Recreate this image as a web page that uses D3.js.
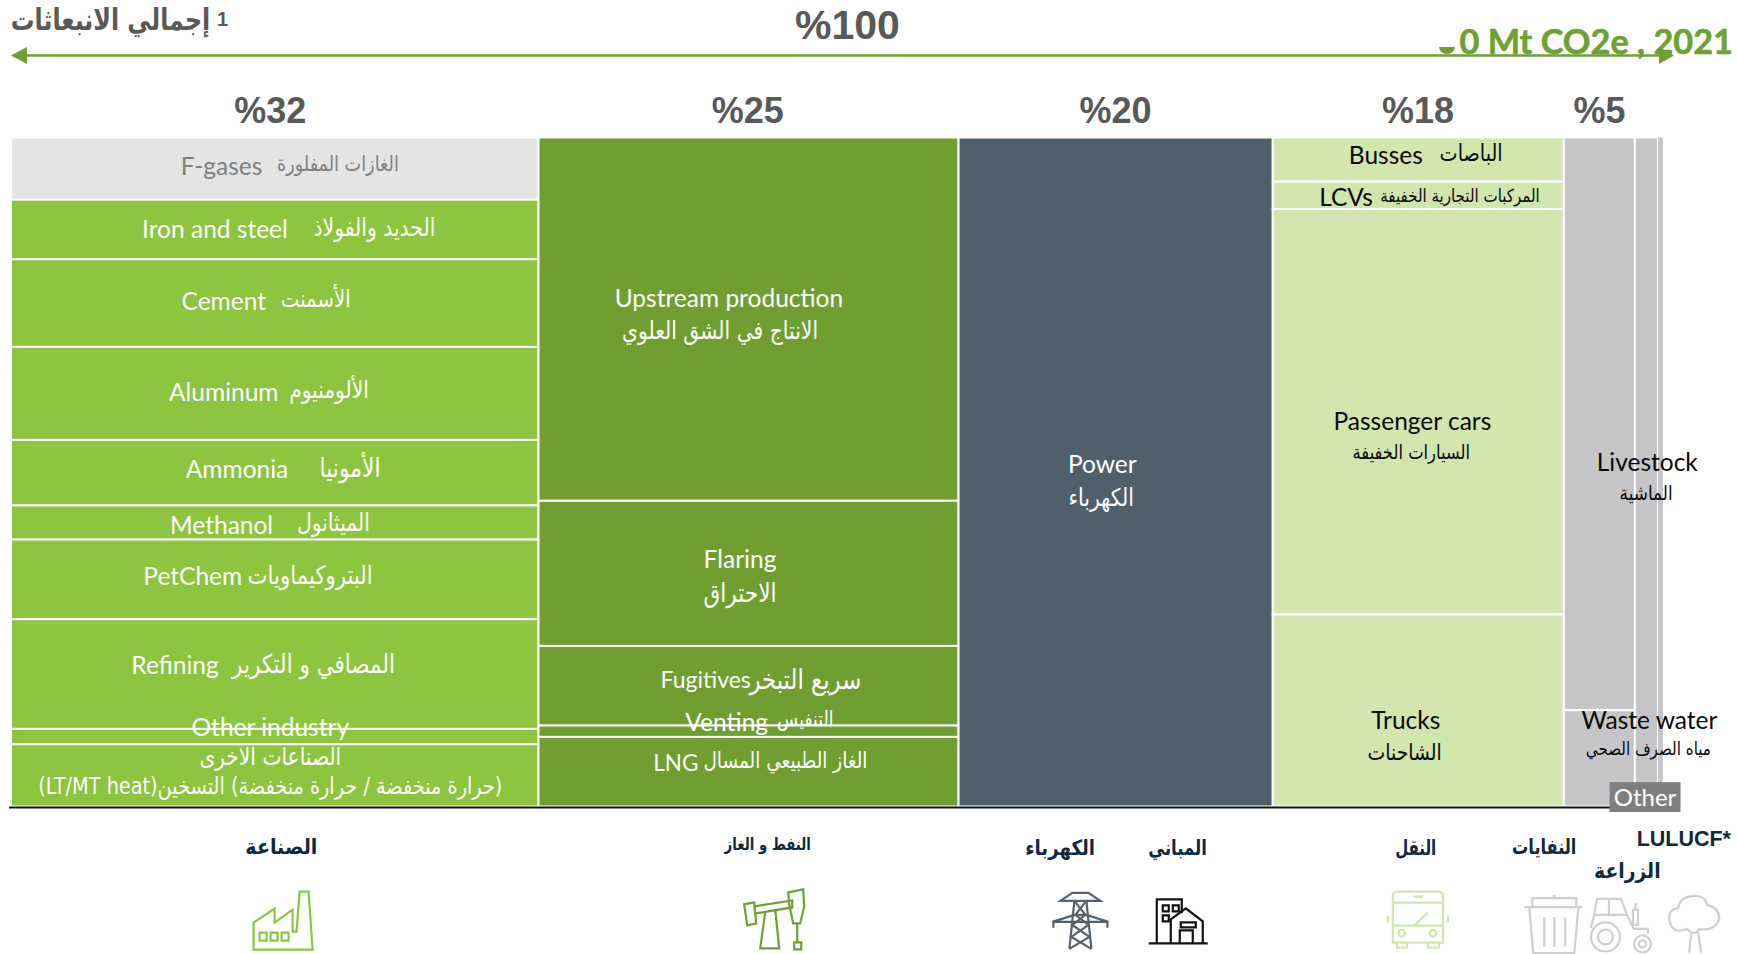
<!DOCTYPE html>
<html>
<head>
<meta charset="utf-8">
<script src="https://cdnjs.cloudflare.com/ajax/libs/d3/7.8.5/d3.min.js"></script>
<style>
html, body { margin: 0; background: #fff; }
svg { display: block; font-family: Lato, "DejaVu Sans", sans-serif; }
</style>
</head>
<body>
<svg></svg>
<script>
// column shares (% of the total width) and the split inside each column (% of height)
var sectors = ["Industry", "Oil and gas", "Power", "Transport", "Waste", "Agriculture", "LULUCF"];
var sectorWidth = [31.9, 25.4, 19.0, 17.6, 4.3, 1.4, 0.3];
var industry = [9.3, 8.9, 13.1, 13.9, 9.8, 5.1, 11.9, 16.4, 2.3, 9.3];
var oilGas = [54.3, 21.7, 11.9, 1.7, 10.4];
var power = [100];
var transport = [6.6, 4.1, 60.6, 28.7];
var waste = [85.6, 14.4];
var agriculture = [100];
var lulucf = [100];
var columnSplits = [industry, oilGas, power, transport, waste, agriculture, lulucf];
var columnColors = ["#8cc63f", "#6f9f31", "#4f5f6b", "#d0e6ad", "#c5c5c8", "#c5c5c8", "#c5c5c8"];
var shareLabels = ["%32", "%25", "%20", "%18", "%5"];

var svgWidth = 1737, svgHeight = 954;
var k = 1737 / 1568; // spots below

var svg = d3.select("svg")
    .attr("viewBox", [0, 0, svgWidth, svgHeight])
    .attr("width", svgWidth)
    .attr("height", svgHeight);

var x = d3.scaleLinear().domain([0, d3.sum(sectorWidth)]).range([11, 1663]);
var y = d3.scaleLinear().domain([0, 100]).range([137.5, 806.5]);
var xEdges = [0].concat(Array.from(d3.cumsum(sectorWidth)));

// cells
var cells = [];
columnSplits.forEach(function(split, c) {
    var start = 0;
    split.forEach(function(v, i) {
        cells.push({ col: c, idx: i, from: start, to: start + v });
        start += v;
    });
});

svg.append("g").selectAll("rect")
    .data(cells)
    .enter()
    .append("rect")
    .attr("x", d => x(xEdges[d.col]))
    .attr("y", d => y(d.from))
    .attr("width", d => x(xEdges[d.col + 1]) - x(xEdges[d.col]))
    .attr("height", d => y(d.to) - y(d.from))
    .attr("fill", d => (d.col == 0 && d.idx == 0) ? "#e4e4e4" : columnColors[d.col])
    .attr("stroke", "#fff")
    .attr("stroke-width", d => d.col == 6 ? 0 : 2);

// baseline
svg.append("line")
    .attr("x1", 9).attr("x2", 1612)
    .attr("y1", 807.5).attr("y2", 807.5)
    .attr("stroke", "#111").attr("stroke-width", 2);

// total arrow
var arrowGreen = "#6fa033";
svg.append("line")
    .attr("x1", 20).attr("x2", 1665)
    .attr("y1", 55.5).attr("y2", 55.5)
    .attr("stroke", arrowGreen).attr("stroke-width", 2.5);
svg.append("path").attr("d", "M11,55.5 L27,47 L27,64 Z").attr("fill", arrowGreen);
svg.append("path").attr("d", "M1674,55.5 L1659,47 L1659,64 Z").attr("fill", arrowGreen);

// arabic text: squeezed to the width seen in the picture, taller than it would be at that width
function fitWidth(sel, widthOf, stretch) {
    sel.each(function(d) {
        var t = widthOf(d) * k;
        var size = parseFloat(d3.select(this).attr("font-size"));
        var w = this.getComputedTextLength();
        d3.select(this)
            .attr("font-size", size * t / w * stretch)
            .attr("textLength", t)
            .attr("lengthAdjust", "spacingAndGlyphs");
    });
}

var title = svg.append("g").attr("font-weight", 700).attr("fill", "#595959");
title.append("text")
    .datum(180)
    .attr("x", 110.5).attr("y", 30)
    .attr("font-family", "DejaVu Sans").attr("font-size", 24)
    .attr("direction", "rtl").attr("text-anchor", "middle")
    .text("إجمالي الانبعاثات")
    .call(fitWidth, d => d, 1.25);
title.append("text")
    .attr("x", 217).attr("y", 26)
    .attr("font-family", "Liberation Sans").attr("font-size", 20)
    .text("1");
title.append("text")
    .attr("x", 765 * k).attr("y", 39).attr("text-anchor", "middle")
    .attr("font-family", "Liberation Sans").attr("font-size", 41)
    .text("%100");

svg.append("text")
    .attr("x", 1733).attr("y", 54).attr("text-anchor", "end")
    .attr("font-size", 34.3).attr("font-weight", 700).attr("fill", arrowGreen)
    .attr("stroke", arrowGreen).attr("stroke-width", 0.6)
    .text("0 Mt CO2e , 2021");
svg.append("path")
    .attr("d", "M1439,47 L1455,47 Q1454,54 1447,54 Q1440,54 1439,47 Z")
    .attr("fill", arrowGreen);

var shareX = [244, 675, 1007, 1280, 1444];
svg.append("g").selectAll("text")
    .data(shareLabels)
    .enter()
    .append("text")
    .text(d => d)
    .attr("x", (d, i) => shareX[i] * k)
    .attr("y", 123)
    .attr("text-anchor", "middle")
    .attr("font-family", "Liberation Sans")
    .attr("font-size", 36)
    .attr("font-weight", 700)
    .attr("fill", "#595959");

// cell labels: english text
var white = "#fff", black = "#0a0a0a", grey = "#808080";
var enLabels = [
    ["F-gases", 200, 150, grey], ["Iron and steel", 194, 207, white], ["Cement", 202, 272, white],
    ["Aluminum", 202, 354, white], ["Ammonia", 214, 424, white], ["Methanol", 200, 474, white],
    ["PetChem", 174, 520, white], ["Refining", 158, 601, white], ["Other industry", 244, 657, white],
    ["Upstream production", 658, 269, white], ["Flaring", 668, 505, white], ["Fugitives", 637, 614, white, 23],
    ["Venting", 656, 652, white], ["LNG", 610, 689, white, 22.5], ["Power", 995, 419, white],
    ["Busses", 1251, 140, black], ["LCVs", 1215, 178, black], ["Passenger cars", 1275, 380, black],
    ["Trucks", 1269, 650, black], ["Livestock", 1487, 417, black], ["Waste water", 1489, 650, black]
];
svg.append("g").selectAll("text")
    .data(enLabels)
    .enter()
    .append("text")
    .text(d => d[0])
    .attr("x", d => d[1] * k)
    .attr("y", d => d[2] * k)
    .attr("dy", "0.35em")
    .attr("text-anchor", "middle")
    .attr("font-size", d => d[4] || 24.5)
    .attr("fill", d => d[3]);

var arLabels = [
    ["الغازات المفلورة", 305, 148, 110, grey], ["الحديد والفولاذ", 338, 205, 110, white],
    ["الأسمنت", 285, 270, 63, white], ["الألومنيوم", 297, 352, 72, white],
    ["الأمونيا", 316, 422, 55, white], ["الميثانول", 301, 472, 66, white],
    ["البتروكيماويات", 280, 519, 113, white], ["المصافي و التكرير", 283, 599, 147, white],
    ["الصناعات الاخرى", 244, 683, 128, white],
    ["(حرارة منخفضة / حرارة منخفضة) التسخين(LT/MT heat)", 244, 709, 419, white],
    ["الانتاج في الشق العلوي", 650, 298, 177, white], ["الاحتراق", 668, 535, 66, white],
    ["سريع التبخر", 727, 613, 101, white], ["التنفيس", 727, 649, 51, white],
    ["الغاز الطبيعي المسال", 709, 686, 148, white], ["الكهرباء", 994, 449, 59, white],
    ["الباصات", 1328, 138, 57, black], ["المركبات التجارية الخفيفة", 1318, 177, 144, black],
    ["السيارات الخفيفة", 1274, 408, 106, black], ["الشاحنات", 1268, 679, 67, black],
    ["الماشية", 1486, 445, 48, black], ["مياه الصرف الصحي", 1488, 676, 113, black]
];
svg.append("g").selectAll("text")
    .data(arLabels)
    .enter()
    .append("text")
    .text(d => d[0])
    .attr("x", d => d[1] * k)
    .attr("y", d => d[2] * k)
    .attr("dy", "0.35em")
    .attr("direction", "rtl")
    .attr("text-anchor", "middle")
    .attr("font-family", "DejaVu Sans")
    .attr("font-size", 20)
    .attr("fill", d => d[4])
    .call(fitWidth, d => d[3], 1.2);

// Other box
svg.append("rect")
    .attr("x", 1453 * k).attr("y", 706 * k)
    .attr("width", 64 * k).attr("height", 27 * k)
    .attr("fill", "#7f7f7f");
svg.append("text")
    .attr("x", 1485 * k).attr("y", 720 * k).attr("dy", "0.35em")
    .attr("text-anchor", "middle").attr("font-size", 24).attr("fill", "#fff")
    .text("Other");

// sector headings under the axis
var navy = "#0f2a3c";
var headings = [
    ["الصناعة", 254, 764, 65, 21], ["النفط و الغاز", 693, 762, 78, 17], ["الكهرباء", 957, 765, 63, 21],
    ["المباني", 1063, 765, 53, 21], ["النقل", 1278, 765, 37, 21], ["النفايات", 1394, 764, 58, 21],
    ["الزراعة", 1469, 786, 60, 21]
];
svg.append("g").selectAll("text")
    .data(headings)
    .enter()
    .append("text")
    .text(d => d[0])
    .attr("x", d => d[1] * k)
    .attr("y", d => d[2] * k)
    .attr("dy", "0.35em")
    .attr("direction", "rtl")
    .attr("text-anchor", "middle")
    .attr("font-family", "DejaVu Sans")
    .attr("font-weight", 700)
    .attr("font-size", d => d[4])
    .attr("textLength", d => d[3] * k)
    .attr("lengthAdjust", "spacingAndGlyphs")
    .attr("fill", navy);
svg.append("text")
    .attr("x", 1520 * k).attr("y", 757 * k).attr("dy", "0.35em")
    .attr("text-anchor", "middle")
    .attr("font-family", "Liberation Sans").attr("font-weight", 700)
    .attr("font-size", 21.5).attr("fill", navy)
    .text("LULUCF*");

// outline icons, drawn around their own corner
function icon(px, py, color, paths) {
    var g = svg.append("g")
        .attr("transform", "translate(" + (px * k) + "," + (py * k) + ")")
        .attr("fill", "none").attr("stroke", color).attr("stroke-width", 2.2);
    paths.forEach(function(p) { g.append("path").attr("d", p); });
}
icon(228, 803, "#8cc63f", [
    "M1,60 V33 L22,19 V33 L40,20 V42 H44 L47,2 H56 L60,60 Z",
    "M7,43 h7 v8 h-7 Z M18,43 h7 v8 h-7 Z M29,43 h7 v8 h-7 Z"
]);
icon(670, 802, "#6fa033", [
    "M2,16 L12,14 L14,35 L5,37 Z M12,18 L50,12 L50,19 L13,25 Z",
    "M46,4 L61,1 L62,18 L58,35 L51,35 L47,16 Z",
    "M23,24 L18,60 H37 L33,21 M55,35 V54 M52,54 h7 v7 h-7 Z"
]);
icon(950, 806, "#56636e", [
    "M8,8 L20,0 H36 L48,8 H8 Z M22,8 L17,56 M34,8 L39,56",
    "M0,29 L22,22 H34 L56,29 H0 M1,29 v6 M55,29 v6",
    "M22,8 L33,22 L20,32 L37,44 L17,56 M34,8 L23,22 L36,32 L19,44 L39,56"
]);
icon(1037, 810, "#111", [
    "M0,46 H59 M8,46 V2 H33 V16 M22,46 V22 L37,11 L54,24 V46",
    "M14,8 h6 v6 h-6 Z M24,8 h6 v6 h-6 Z M14,18 h6 v6 h-6 Z",
    "M32,25 h15 v5 h-15 Z M31,46 V33 H44 V46"
]);
icon(1252, 804, "#d0e6ad", [
    "M6,5 Q6,1 11,1 H51 Q56,1 56,5 V52 H6 Z M6,12 H56 M6,35 H56",
    "M27,6 H36 M27,35 L41,22 M1,25 v7 M61,25 v7",
    "M11.5,42.6 a3.3,3.3 0 1 0 6.6,0 a3.3,3.3 0 1 0 -6.6,0 Z M42.7,42.6 a3.3,3.3 0 1 0 6.6,0 a3.3,3.3 0 1 0 -6.6,0 Z",
    "M10,52 v5 h10 v-5 M41,52 v5 h11 v-5"
]);
icon(1376, 808, "#cfcfcf", [
    "M0,12 H58 M8,12 V3 H52 V12 M30,3 V0",
    "M5,13 L9,58 H50 L54,13 M20,22 V52 M30,22 V52 M41,22 V52"
]);
icon(1435.3, 810.6, "#cfcfcf", [
    "M7,1 H31 L37,17 H4 Z M19,1 V17 M4,18 L1,30 M37,17 L44,31 H58 V36",
    "M43,12 V27 H48 V12 Z M45.5,5 V12",
    "M1,39 a14.5,14.5 0 1 0 29,0 a14.5,14.5 0 1 0 -29,0 Z M8,39 a7.5,7.5 0 1 0 15,0 a7.5,7.5 0 1 0 -15,0 Z",
    "M44,46 a8.5,8.5 0 1 0 17,0 a8.5,8.5 0 1 0 -17,0 Z M49,46 a3.5,3.5 0 1 0 7,0 a3.5,3.5 0 1 0 -7,0 Z"
]);
icon(1505, 808, "#cfcfcf", [
    "M20,34 Q4,40 2,24 Q1,14 11,13 Q13,1 26,1 Q38,0 40,10 Q52,12 52,24 Q48,36 32,34 Q28,42 20,34 Z",
    "M24,38 L22,58 M31,38 L34,58"
]);
</script>
</body>
</html>
